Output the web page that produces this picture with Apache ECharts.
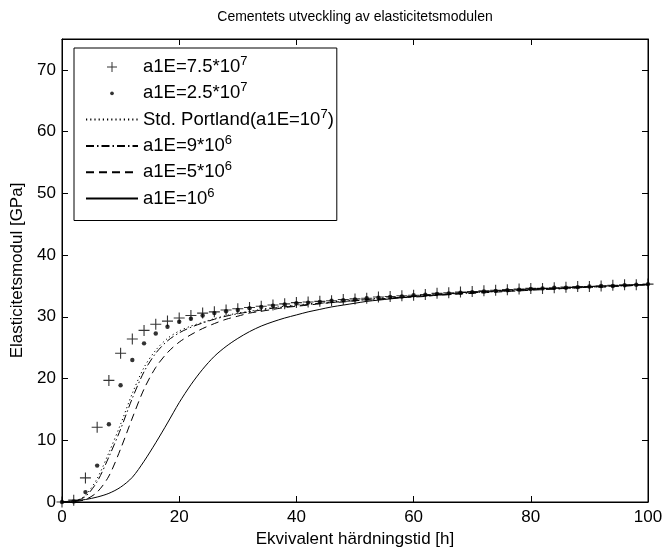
<!DOCTYPE html>
<html><head><meta charset="utf-8">
<script src="https://cdn.jsdelivr.net/npm/echarts@6/dist/echarts.min.js"></script>
<style>html,body{margin:0;padding:0;background:#fff}#c{width:663px;height:548px}</style>
</head><body><div id="c"></div>
<script>
const hours = [0,2,4,6,8,10,12,14,16,18,20,22,24,26,28,30,32,34,36,38,40,42,44,46,48,50,52,54,56,58,60,62,64,66,68,70,72,74,76,78,80,82,84,86,88,90,92,94,96,98,100];
const seriesNames = ['a1E=7.5*10^7','a1E=2.5*10^7','Std. Portland(a1E=10^7)','a1E=9*10^6','a1E=5*10^6','a1E=10^6'];
const e75e7 = [0,0.3,3.9,12.1,19.7,24.1,26.4,27.8,28.8,29.3,29.8,30.2,30.6,30.8,31.1,31.3,31.5,31.7,31.9,32.1,32.3,32.4,32.5,32.6,32.8,32.9,33.0,33.2,33.3,33.4,33.5,33.6,33.8,33.9,34.0,34.1,34.2,34.3,34.4,34.5,34.6,34.6,34.7,34.8,34.9,34.9,35.0,35.1,35.2,35.2,35.3];
const e25e7 = [0,0.1,1.6,5.9,12.6,18.9,23.0,25.7,27.3,28.4,29.2,29.7,30.2,30.6,30.9,31.1,31.4,31.6,31.8,32.0,32.2,32.3,32.4,32.6,32.7,32.8,33.0,33.1,33.2,33.3,33.5,33.6,33.7,33.8,33.9,34.0,34.1,34.2,34.3,34.4,34.5,34.6,34.7,34.7,34.8,34.9,35.0,35.0,35.1,35.2,35.3];
const portland = [0,0.1,1.1,3.8,8.0,12.6,17.6,21.8,24.6,26.5,27.7,28.5,29.1,29.7,30.2,30.6,30.9,31.2,31.5,31.7,31.9,32.1,32.2,32.4,32.6,32.7,32.8,33.0,33.1,33.2,33.4,33.5,33.6,33.7,33.8,33.9,34.0,34.1,34.2,34.3,34.4,34.5,34.6,34.7,34.8,34.8,34.9,35.0,35.1,35.2,35.2];
const e9e6 = [0,0.1,0.9,3.3,7.3,11.8,16.8,21.1,24.1,26.1,27.4,28.3,29.0,29.6,30.1,30.5,30.8,31.1,31.4,31.6,31.8,32.0,32.2,32.3,32.5,32.6,32.8,32.9,33.0,33.2,33.3,33.4,33.5,33.6,33.8,33.9,34.0,34.1,34.2,34.3,34.4,34.5,34.5,34.6,34.7,34.8,34.9,35.0,35.0,35.1,35.2];
const e5e6 = [0,0.05,0.4,1.6,4.2,8.6,13.6,18.3,21.8,24.2,25.9,27.1,28.1,28.9,29.6,30.1,30.6,30.9,31.2,31.5,31.7,31.9,32.1,32.3,32.4,32.6,32.7,32.8,33.0,33.1,33.2,33.3,33.5,33.6,33.7,33.8,33.9,34.0,34.1,34.2,34.3,34.4,34.5,34.6,34.7,34.8,34.8,34.9,35.0,35.1,35.2];
const e1e6 = [0,0.2,0.4,0.8,1.4,2.4,4.0,6.6,9.6,12.8,16.1,19.0,21.5,23.6,25.2,26.5,27.6,28.5,29.2,29.8,30.3,30.8,31.2,31.6,31.9,32.2,32.5,32.7,32.9,33.1,33.3,33.4,33.6,33.7,33.9,34.0,34.1,34.2,34.3,34.4,34.5,34.6,34.6,34.7,34.8,34.9,35.0,35.0,35.1,35.2,35.2];
const xTicks = {min:0, max:100, interval:20};
const yTicks = {min:0, max:75, interval:10};

const FF = '"Liberation Sans", Arial, Helvetica, sans-serif';
const pairs = ys => hours.map((h,i)=>[h, ys[i]]);
const plusPath = 'path://M4.5,0h1v4.5h4.5v1h-4.5v4.5h-1v-4.5h-4.5v-1h4.5z';
const dotPath = 'path://M0,0L0,0M12,12L12,12M3.8,6a2.2,2.2 0 1,0 4.4,0a2.2,2.2 0 1,0 -4.4,0z';

const axisCommon = (t, pos, extra) => Object.assign({
  type:'value', min:t.min, max:t.max, interval:t.interval, position:pos,
  axisLine:{show:true, onZero:false, lineStyle:{color:'#000', width:1}},
  axisTick:{show:true, inside:true, length:6, lineStyle:{color:'#000', width:1}},
  splitLine:{show:false}
}, extra);

const lineSeries = (name, ys, type) => ({
  name, type:'line', data:pairs(ys), symbol:'none', smooth:0.3,
  lineStyle:{color:'#000', width:1, type},
  itemStyle:{color:'#000'}, z:2, animation:false
});

const option = {
  animation:false,
  backgroundColor:'#fff',
  title:{text:'Cementets utveckling av elasticitetsmodulen', left:355, textAlign:'center', top:10, padding:0,
    textStyle:{fontSize:14, fontWeight:'normal', color:'#000', fontFamily:FF}},
  grid:{left:62, right:15, top:39, bottom:46, show:true, borderColor:'#000', borderWidth:1, outerBoundsMode:'none', containLabel:false},
  xAxis:[
    axisCommon(xTicks,'bottom',{axisLabel:{color:'#000', fontSize:17, fontFamily:FF, margin:7},
      name:'Ekvivalent härdningstid [h]', nameLocation:'middle', nameGap:27,
      nameTextStyle:{color:'#000', fontSize:17, fontFamily:FF}}),
    axisCommon(xTicks,'top',{axisLabel:{show:false}})
  ],
  yAxis:[
    axisCommon(yTicks,'left',{axisLabel:{color:'#000', fontSize:17, fontFamily:FF, margin:6, showMaxLabel:false,
      formatter: v => (v > 72 ? '' : String(v))},
      name:'Elasticitetsmodul [GPa]', nameLocation:'middle', nameGap:27,
      nameTextStyle:{color:'#000', fontSize:17, fontFamily:FF}}),
    axisCommon(yTicks,'right',{axisLabel:{show:false}})
  ],
  legend:{
    orient:'vertical', left:74, top:48, padding:[7,3,10,11], itemWidth:52, itemHeight:10, itemGap:2.3,
    backgroundColor:'#fff', borderColor:'#000', borderWidth:1, selectedMode:false,
    data: seriesNames.map((n,i)=> i < 2 ? {name:n} : {name:n, itemStyle:{opacity:0}}),
    formatter: n => n.replace(/\^(\d+)/g, '{s|$1}'),
    textStyle:{color:'#000', fontSize:18.5, fontFamily:FF, lineHeight:24,
      rich:{s:{fontSize:13, lineHeight:12, verticalAlign:'top', fontFamily:FF, color:'#000'}}}
  },
  series:[
    {name:seriesNames[0], type:'scatter', data:pairs(e75e7), symbol:plusPath, symbolSize:11, itemStyle:{color:'#000'}, z:4, animation:false},
    {name:seriesNames[1], type:'scatter', data:pairs(e25e7), symbol:dotPath, symbolSize:12, itemStyle:{color:'#000'}, z:4, animation:false},
    lineSeries(seriesNames[2], portland, [1.2,3]),
    lineSeries(seriesNames[3], e9e6, [8,3,1.5,3]),
    lineSeries(seriesNames[4], e5e6, [8,5]),
    lineSeries(seriesNames[5], e1e6, 'solid')
  ]
};
const chart = echarts.init(document.getElementById('c'), null, {renderer:'canvas'});
chart.setOption(option);
</script>
</body></html>
